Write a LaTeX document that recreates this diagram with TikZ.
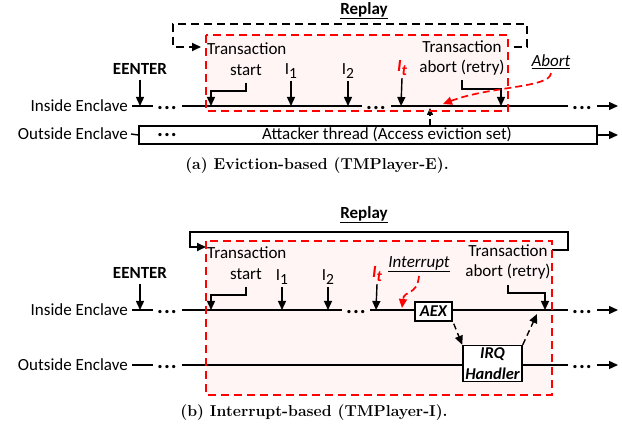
\documentclass[tikz,border=0pt]{standalone}
\usepackage{fontspec}
\setsansfont{Carlito}
\usetikzlibrary{arrows.meta}
\newcommand{\sbs}[1]{\raisebox{-0.55ex}{\fontsize{15.5}{15.5}\selectfont #1}}
\newcommand{\dts}{{\fontsize{22}{22}\selectfont.\hspace{1pt}.\hspace{1pt}.}}

\begin{document}
\begin{tikzpicture}[x=1pt,y=-1pt,
  lbl/.style={font=\sffamily\fontsize{17}{20}\selectfont,inner sep=0pt},
  blbl/.style={font=\sffamily\bfseries\fontsize{17}{20}\selectfont,inner sep=0pt},
  ilbl/.style={font=\sffamily\itshape\fontsize{17}{20}\selectfont,inner sep=0pt},
  itlbl/.style={font=\sffamily\bfseries\itshape\fontsize{17}{20}\selectfont,inner sep=0pt,text=red},
  caption/.style={font=\bfseries\fontsize{15.8}{19}\selectfont,inner sep=0pt},
  tl/.style={line width=1.4pt},
  arr/.style={line width=1.4pt,-{Triangle[length=9pt,width=8pt]}},
  darr/.style={arr,dash pattern=on 6pt off 4pt},
  redarr/.style={arr,red,line width=1.7pt,dash pattern=on 7pt off 4pt},
  redfill/.style={fill=red!4},
  redbox/.style={draw=red,line width=1.8pt,dash pattern=on 8pt off 5pt},
  evbox/.style={draw,fill=white,line width=1.5pt,inner sep=2pt,
    font=\sffamily\bfseries\itshape\fontsize{16.5}{21}\selectfont,align=center}]
\useasboundingbox (0,0) rectangle (622,430);

% (a) eviction-based
\fill[redfill] (206,35) rectangle (508,111);
\node[blbl] (repA) at (364,11) {\underline{Replay}};
\draw[darr,line width=1.8pt,dash pattern=on 8pt off 5pt] (514,47) -- (527,47) -- (527,24) -- (173,24) -- (173,47) -- (201,47);

\node[lbl,anchor=east] (inA) at (128,106) {Inside Enclave};
\node[lbl,anchor=east] (outA) at (128,134) {Outside Enclave};
\draw[tl] ([xshift=4pt]inA.east) -- (153,106);
\node[blbl] (d1A) at (167,108) {\dts};
\draw[tl] (182,106) -- (362,106);
\node[blbl] (d2A) at (376,108) {\dts};
\draw[tl] (391,106) -- (568,106);
\node[blbl] (d3A) at (582,108) {\dts};
\draw[arr] (597,106) -- (618,106);

\node[blbl] (eeA) at (140,69) {EENTER};
\draw[arr] ([yshift=-5pt]eeA.south) -- (140,106);
\node[lbl,anchor=west] (trsA) at (207,49) {Transaction};
\node[lbl] (stA) at (246,70) {start};
\draw[arr] ([yshift=-7pt]stA.south) |- (211,91) -- (211,106);
\node[lbl] (i1A) at (291,71) {I\sbs{1}};
\draw[arr] ([yshift=-2pt]i1A.south) -- (291,106);
\node[lbl] (i2A) at (348,71) {I\sbs{2}};
\draw[arr] ([yshift=-2pt]i2A.south) -- (348,106);
\node[itlbl] (itA) at (402,68) {I\sbs{t}};
\draw[arr] ([yshift=-2pt]itA.south) -- (401,106);
\node[lbl] (taA) at (462,47) {Transaction};
\node[lbl] (abA) at (462,68) {abort (retry)};
\draw[arr] ([yshift=-4pt]abA.south) |- (501,89) -- (501,106);
\node[ilbl] (abortA) at (551,62) {\underline{Abort}};
\draw[redarr] ([yshift=-4pt]abortA.south) .. controls (550,88) and (490,86) .. (443,104);

\node[draw,fill=white,line width=1.5pt,minimum width=458pt,minimum height=18pt,inner sep=0pt] (atk) at (368,135) {};
\draw[tl] ([xshift=3pt]outA.east) -- (atk.west);
\node[blbl] (d4A) at (167,135) {\dts};
\node[lbl] (atkT) at (387,134) {Attacker thread (Access eviction set)};
\draw[arr] (atk.east) -- (618,135);
\draw[darr,-{Triangle[length=7pt,width=6pt]}] ([xshift=62pt]atk.north) -- (430,108);
\draw[redbox] (206,35) rectangle (508,111);

\node[caption] (capA) at (317,166) {(a) Eviction-based (TMPlayer-E).};

% (b) interrupt-based
\fill[redfill] (206,241) rectangle (552,395);
\node[blbl] (repB) at (364,215) {\underline{Replay}};
\draw[arr,line width=1.8pt] (552,250) -- (568,250) -- (568,232) -- (190,232) -- (190,247) -- (206,247);

\node[lbl,anchor=east] (inB) at (128,310) {Inside Enclave};
\node[lbl,anchor=east] (outB) at (128,365) {Outside Enclave};
\draw[tl] ([xshift=4pt]inB.east) -- (153,310);
\node[blbl] (d1B) at (167,312) {\dts};
\draw[tl] (182,310) -- (342,310);
\node[blbl] (d2B) at (356,312) {\dts};
\node[evbox,minimum width=37pt,minimum height=19pt] (aex) at (433.5,311.5) {AEX};
\draw[tl] (370,310) -- (415,310);
\draw[tl] (452,310) -- (568,310);
\node[blbl] (d3B) at (582,312) {\dts};
\draw[arr] (597,310) -- (618,310);

\node[blbl] (eeB) at (140,273) {EENTER};
\draw[arr] ([yshift=-5pt]eeB.south) -- (140,310);
\node[lbl,anchor=west] (trsB) at (207,253) {Transaction};
\node[lbl] (stB) at (246,274) {start};
\draw[arr] ([yshift=-7pt]stB.south) |- (211,295) -- (211,310);
\node[lbl] (i1B) at (282,277) {I\sbs{1}};
\draw[arr] ([yshift=-2pt]i1B.south) -- (282,310);
\node[lbl] (i2B) at (328,277) {I\sbs{2}};
\draw[arr] ([yshift=-2pt]i2B.south) -- (328,310);
\node[itlbl] (itB) at (377,274) {I\sbs{t}};
\draw[arr] ([yshift=-2pt]itB.south) -- (376,310);
\node[ilbl] (intB) at (419,264) {\underline{Interrupt}};
\draw[redarr] ([yshift=-4pt]intB.south) .. controls (417,296) and (404,290) .. (402,308);
\node[lbl] (taB) at (508,251) {Transaction};
\node[lbl] (abB) at (508,272) {abort (retry)};
\draw[arr] ([yshift=-5pt]abB.south) |- (545,293) -- (545,310);

\node[evbox,minimum width=59pt,minimum height=35pt] (irq) at (492.5,363.5) {IRQ\\Handler};
\draw[darr] ([xshift=1pt,yshift=-2pt]aex.south east) -- (irq.north west);
\draw[darr] (irq.north east) -- (537,314);

\draw[tl] ([xshift=4pt]outB.east) -- (153,365);
\node[blbl] (d4B) at (167,367) {\dts};
\draw[tl] (182,365) -- (463,365);
\draw[tl] (522,365) -- (568,365);
\node[blbl] (d5B) at (582,367) {\dts};
\draw[arr] (597,365) -- (618,365);
\draw[redbox] (206,241) rectangle (552,395);

\node[caption] (capB) at (314,413) {(b) Interrupt-based (TMPlayer-I).};
\end{tikzpicture}
\end{document}
